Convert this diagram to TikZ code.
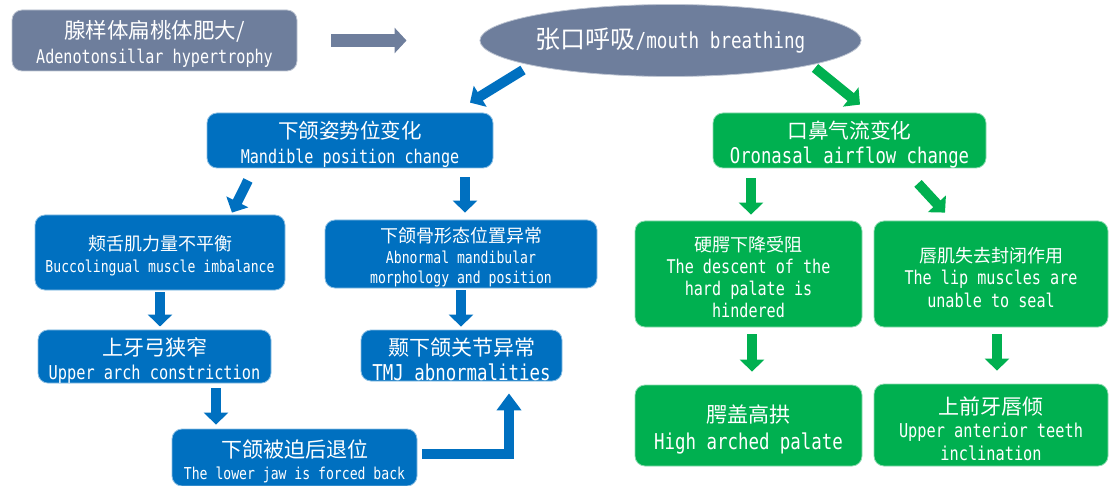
\documentclass[tikz,border=0pt]{standalone}
\usepackage{fontspec}
\newfontfamily\zhfont{Noto Sans CJK SC}
\newfontfamily\enfont[FakeStretch=0.8]{DejaVu Sans Mono}
\newcommand\zh[1]{\zhfont\fontsize{#1}{#1}\selectfont\rule{0pt}{1.2em}}
\newcommand\en[2]{\enfont\fontsize{#1}{#2}\selectfont}
\usetikzlibrary{arrows.meta,shapes.geometric}
\definecolor{slate}{RGB}{110,126,156}
\definecolor{mblue}{RGB}{0,112,192}
\definecolor{mgreen}{RGB}{0,176,80}
\tikzset{
  box/.style = {rounded corners=10pt, inner sep=0pt, align=center, text=white, line width=0.8pt},
  slatebox/.style = {box, fill=slate, draw=slate!45!white},
  bluebox/.style = {box, fill=mblue, draw=mblue!45!white},
  greenbox/.style = {box, fill=mgreen, draw=mgreen!45!white},
  blockarr/.style = {line width=10pt, -{Triangle[width=24pt,length=12pt]}},
  bluearr/.style = {blockarr, mblue},
  greenarr/.style = {blockarr, mgreen}
}

\begin{document}
\begin{tikzpicture}[x=1pt, y=-1pt]
  \useasboundingbox (0,0) rectangle (1110,486);
  \node[slatebox, minimum width=285pt, minimum height=61pt, font=\en{18.9}{25}] (adeno) at (154.5,40.5)
    {\zh{21.5}腺样体扁桃体肥大/\\Adenotonsillar hypertrophy};
  \node[ellipse, fill=slate, draw=slate!45!white, line width=0.8pt, inner sep=0pt,
        text=white, minimum width=321pt, minimum height=72pt, font=\en{22}{22}] (mouth) at (670.5,40.5)
    {{\zhfont\fontsize{25}{25}\selectfont 张口呼吸}/mouth breathing};

  \node[bluebox, minimum width=286pt, minimum height=55pt, font=\en{18.9}{25}] (mand) at (350,140.5)
    {\zh{20.5}下颌姿势位变化\\Mandible position change};
  \node[greenbox, minimum width=273pt, minimum height=55pt, font=\en{21.6}{25}] (oro) at (849.5,140.5)
    {\zh{20.7}口鼻气流变化\\Oronasal airflow change};

  \node[bluebox, minimum width=250pt, minimum height=75pt, font=\en{16.4}{22}] (buc) at (160,252.5)
    {\zh{18}颊舌肌力量不平衡\\Buccolingual muscle imbalance};
  \node[bluebox, minimum width=272pt, minimum height=68pt, font=\en{16.4}{20.5}] (morph) at (461,254)
    {\zh{18}下颌骨形态位置异常\\Abnormal mandibular\\morphology and position};
  \node[bluebox, minimum width=233pt, minimum height=51pt, font=\en{19.1}{24}] (arch) at (154.5,356.5)
    {\zh{21}上牙弓狭窄\\Upper arch constriction};
  \node[bluebox, minimum width=201pt, minimum height=51pt, font=\en{21.8}{25}] (tmj) at (461.5,355.5)
    {\zh{21}颞下颌关节异常\\TMJ abnormalities};
  \node[bluebox, minimum width=245pt, minimum height=57pt, font=\en{16.4}{22}] (back) at (294.5,457.5)
    {\zh{21}下颌被迫后退位\\The lower jaw is forced back};

  \node[greenbox, minimum width=227pt, minimum height=106pt, font=\en{18.9}{22}] (hard) at (748.5,274)
    {\zh{18}硬腭下降受阻\\The descent of the\\hard palate is\\hindered};
  \node[greenbox, minimum width=234pt, minimum height=106pt, font=\en{18.9}{22.5}] (lip) at (991,274)
    {\zh{18}唇肌失去封闭作用\\The lip muscles are\\unable to seal};
  \node[greenbox, minimum width=227pt, minimum height=81pt, font=\en{21.8}{27}] (high) at (748.5,425.5)
    {\zh{21}腭盖高拱\\High arched palate};
  \node[greenbox, minimum width=234pt, minimum height=82pt, font=\en{19.1}{23}] (incl) at (991,425)
    {\zh{21}上前牙唇倾\\Upper anterior teeth\\inclination};

  \draw[slate, line width=13pt, -{Triangle[width=25pt,length=12pt]}]
    ([xshift=34pt]adeno.east) -- ([xshift=-73pt]mouth.west);
  \draw[bluearr] ([shift={(-147.5,29.5)}]mouth.center) -- ([shift={(120,-10)}]mand.north);
  \draw[greenarr] ([shift={(144.5,27.5)}]mouth.center) -- ([shift={(10.5,-8)}]oro.north);

  \draw[bluearr] ([shift={(-102,12)}]mand.south) -- ([shift={(72,-2)}]buc.north);
  \draw[bluearr] ([shift={(115,9)}]mand.south) -- ([shift={(4,-7)}]morph.north);
  \draw[greenarr] ([shift={(-98.5,10)}]oro.south) -- ([shift={(2.5,-6)}]hard.north);
  \draw[greenarr] ([shift={(68.5,15)}]oro.south) -- ([shift={(-46,-8)}]lip.north);

  \draw[bluearr] ([yshift=-2pt]buc.south) -- ([yshift=3pt]buc.south |- arch.north);
  \draw[bluearr] ([yshift=-2pt]morph.south) -- ([yshift=3pt]morph.south |- tmj.north);
  \draw[bluearr] ([shift={(61.5,5)}]arch.south) -- ([shift={(61.5,-4)}]arch.south |- back.north);
  \draw[bluearr, -{Triangle[width=24pt,length=17pt]}]
    ([shift={(5,-4)}]back.east) -| ([shift={(47.5,12)}]tmj.south);
  \draw[greenarr] ([shift={(3.5,7)}]hard.south) -- ([shift={(3.5,-13)}]hard.south |- high.north);
  \draw[greenarr] ([shift={(6,7)}]lip.south) -- ([shift={(6,-13)}]lip.south |- incl.north);
\end{tikzpicture}
\end{document}
